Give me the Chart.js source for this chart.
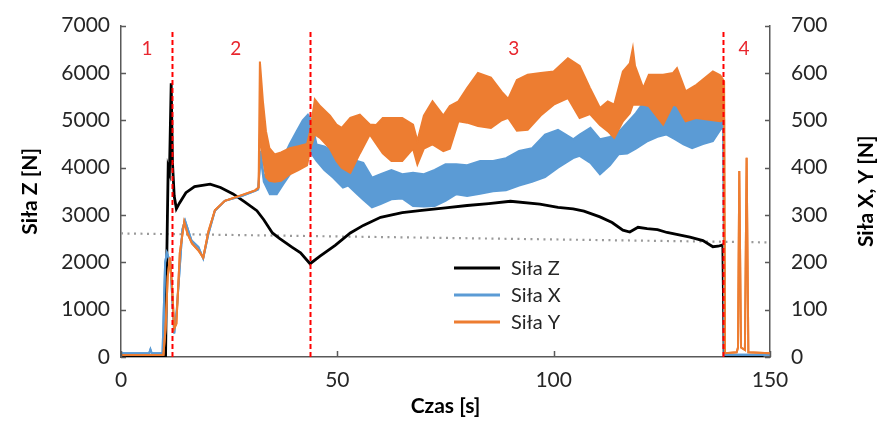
<!DOCTYPE html>
<html>
<head>
<meta charset="utf-8">
<script src="https://cdn.jsdelivr.net/npm/chart.js@4"></script>
<style>
html, body { margin: 0; padding: 0; background: #fff; }
</style>
</head>
<body>
<canvas id="silyChart" width="880" height="423"></canvas>
<script>
// Siła Z (primary axis)
const tZ = [0, 9.8, 10.3, 10.6, 10.9, 11.2, 11.6, 11.9, 12.3, 12.8, 13.5, 15, 17, 20.6, 23, 25.9, 28.5, 31.4, 33, 35,
    36.7, 39.5, 41.5, 43.7, 46, 49.5, 53, 56, 60, 65, 69, 75, 80, 85, 90, 96.8, 101, 104.5, 107, 110.7,
    113.5, 116, 117.6, 119.5, 121.6, 124, 126.2, 131.5, 134.5, 136.8, 138, 139.1, 139.4, 148.5];
const silaZ = [0, 0, 0, 2200, 4000, 3900, 5780, 4100, 3400, 3130, 3250, 3470, 3600, 3650, 3580, 3445, 3280, 3090, 2900, 2620,
    2500, 2320, 2200, 1970, 2130, 2360, 2620, 2780, 2950, 3050, 3090, 3150, 3200, 3240, 3290, 3230, 3160, 3130, 3080, 2960,
    2840, 2680, 2640, 2740, 2710, 2690, 2630, 2530, 2460, 2330, 2340, 2370, 0, 0];

// Siła X (secondary axis) - upper / lower edge of the vibrating band
const tX = [0, 6.5, 6.8, 7.1, 9.6, 10.2, 10.6, 11.4, 12.3, 12.9, 14.2, 14.8, 16.3, 17.9, 19, 20.2, 21.7, 24, 27.9, 31,
    31.7, 32.3, 33, 34.4, 36, 37.5, 39, 40.6, 42, 43.2, 44, 45.2, 47, 49, 51.3, 52.5, 54.5, 56, 58, 60,
    62.5, 65, 67.5, 70, 72.5, 75, 77.5, 80, 83, 86, 89, 92, 95, 98, 101, 104.5, 106, 108.5, 110.7, 113,
    115, 117, 119, 121.5, 124, 126, 128, 130, 132, 134.5, 136.8, 138.8, 139.2, 139.5, 150];
const silaXmax = [8, 8, 16, 8, 8, 200, 220, 200, 50, 100, 270, 288, 246, 232, 208, 260, 309, 330, 340, 351,
    354, 435, 380, 400, 405, 421, 450, 477, 500, 512, 500, 449, 445, 435, 410, 393, 414, 410, 379, 386,
    395, 386, 389, 386, 395, 407, 407, 405, 414, 414, 420, 435, 441, 470, 480, 460, 470, 484, 460, 465,
    475, 495, 515, 547, 525, 519, 530, 540, 520, 505, 498, 519, 500, 5, 5];
const silaXmin = [8, 8, 16, 8, 8, 200, 220, 200, 50, 100, 270, 288, 246, 232, 208, 260, 309, 330, 340, 351,
    354, 420, 370, 344, 344, 365, 385, 407, 425, 440, 430, 414, 395, 379, 358, 362, 345, 332, 316, 323,
    333, 335, 319, 318, 319, 330, 344, 340, 345, 350, 352, 362, 370, 380, 400, 420, 425, 410, 386, 405,
    428, 430, 440, 455, 465, 470, 460, 449, 441, 450, 456, 484, 480, 5, 5];

// Siła Y (secondary axis)
const tY = [0, 9.8, 10.3, 10.8, 11.3, 11.8, 12.3, 12.8, 13.6, 14.6, 15.4, 16.4, 17.9, 19, 20.2, 21.7, 24, 27.9, 31, 31.8,
    32.1, 32.8, 33.5, 34.3, 35.5, 37, 39, 41, 43, 43.8, 44.8, 46, 48.3, 49.8, 51, 53, 55.2, 57.5, 59, 60.5,
    62.5, 65, 67.5, 68.5, 70, 72, 74.5, 76, 78, 80, 82.5, 85.5, 88, 89.5, 91.5, 94, 97, 100, 103.3, 106,
    108.4, 110.7, 112.5, 114, 116, 117.6, 118.3, 118.8, 120.7, 122, 125.3, 127.6, 128.5, 130.5, 133, 136.8, 138.5, 139.2, 139.4, 139.6,
    142.3, 142.6, 142.9, 143.3, 144.2, 144.6, 145, 150];
const silaYmax = [4, 4, 60, 170, 210, 150, 60, 70, 220, 285, 260, 240, 225, 210, 265, 310, 330, 342, 352, 358,
    624, 540, 477, 441, 428, 432, 441, 445, 450, 480, 544, 530, 510, 491, 484, 505, 512, 491, 490, 505,
    505, 505, 491, 456, 510, 540, 510, 530, 540, 568, 600, 590, 560, 545, 585, 596, 600, 603, 631, 615,
    568, 526, 540, 533, 603, 620, 652, 615, 568, 596, 596, 600, 610, 561, 575, 603, 595, 585, 582, 8,
    10, 20, 393, 20, 15, 421, 10, 8];
const silaYmin = [4, 4, 60, 170, 210, 150, 60, 70, 220, 285, 260, 240, 225, 210, 265, 310, 330, 342, 352, 358,
    470, 420, 380, 372, 370, 372, 386, 395, 405, 441, 470, 463, 440, 414, 400, 389, 430, 470, 450, 430,
    414, 414, 440, 407, 440, 449, 435, 440, 498, 495, 488, 484, 500, 505, 478, 480, 510, 533, 547, 505,
    513, 490, 477, 463, 498, 515, 533, 533, 533, 530, 491, 533, 530, 498, 505, 500, 498, 500, 500, 8,
    10, 20, 393, 20, 15, 421, 10, 8];

// dotted trend of Siła Z
const tTrend = [0, 150];
const zTrend = [2610, 2420];

// phase boundaries and labels
const phaseT = [11.9, 43.8, 139.25];
const phaseTop = 6880;
const phaseLabels = ['1', '2', '3', '4'];
const phaseLabelT = [6, 26.5, 90.8, 144];
const phaseLabelZ = 6500;

const pts = (xs, ys) => xs.map((x, i) => ({ x, y: ys[i] }));

const BLACK = '#000000';
const BLUE = '#5b9bd5';
const ORANGE = '#ed7d31';
const RED = '#ff0000';
const FONT = 'Lato';
const TEXT = '#262626';

const line = (extra) => Object.assign({
    pointRadius: 0,
    tension: 0,
    borderWidth: 2,
    fill: false
}, extra);

const datasets = [
    line({ label: 'Siła Z', data: pts(tZ, silaZ), yAxisID: 'yZ', borderColor: BLACK, borderWidth: 2.8, order: 3 }),
    line({ label: 'Siła X', data: pts(tX, silaXmax), yAxisID: 'yXY', borderColor: BLUE, backgroundColor: BLUE, fill: '+1', order: 2 }),
    line({ label: '', data: pts(tX, silaXmin), yAxisID: 'yXY', borderColor: BLUE, order: 2 }),
    line({ label: 'Siła Y', data: pts(tY, silaYmax), yAxisID: 'yXY', borderColor: ORANGE, backgroundColor: ORANGE, fill: '+1', order: 1 }),
    line({ label: '', data: pts(tY, silaYmin), yAxisID: 'yXY', borderColor: ORANGE, order: 1 }),
    line({ label: '', data: pts(tTrend, zTrend), yAxisID: 'yZ', borderColor: '#9a9a9a', borderWidth: 2.2, borderDash: [2, 4.5], order: 4 })
];
phaseT.forEach(t => {
    datasets.push(line({ label: '', data: [{ x: t, y: 0 }, { x: t, y: phaseTop }], yAxisID: 'yZ',
        borderColor: RED, borderDash: [5, 3], order: 0 }));
});

const legendItems = [
    { text: 'Siła Z', color: BLACK },
    { text: 'Siła X', color: BLUE },
    { text: 'Siła Y', color: ORANGE }
];

const extras = {
    id: 'extras',
    afterDatasetsDraw(chart) {
        const { ctx, chartArea: a, scales } = chart;
        ctx.save();

        // tick marks point into the plot
        ctx.strokeStyle = '#595959';
        ctx.lineWidth = 1.5;
        ctx.beginPath();
        scales.yZ.ticks.forEach(t => {
            const y = Math.round(scales.yZ.getPixelForValue(t.value)) + 0.5;
            ctx.moveTo(a.left, y); ctx.lineTo(a.left + 5, y);
        });
        scales.yXY.ticks.forEach(t => {
            const y = Math.round(scales.yXY.getPixelForValue(t.value)) + 0.5;
            ctx.moveTo(a.right, y); ctx.lineTo(a.right - 5, y);
        });
        scales.x.ticks.forEach(t => {
            const x = Math.round(scales.x.getPixelForValue(t.value)) + 0.5;
            ctx.moveTo(x, a.bottom); ctx.lineTo(x, a.bottom - 6);
        });
        ctx.stroke();

        // phase numbers
        ctx.fillStyle = '#e8262e';
        ctx.font = `19px ${FONT}`;
        ctx.textAlign = 'center';
        ctx.textBaseline = 'middle';
        phaseLabels.forEach((s, i) => {
            ctx.fillText(s, scales.x.getPixelForValue(phaseLabelT[i]), scales.yZ.getPixelForValue(phaseLabelZ));
        });

        // legend
        ctx.textAlign = 'left';
        ctx.fillStyle = TEXT;
        ctx.font = `20px ${FONT}`;
        ctx.lineWidth = 3;
        legendItems.forEach((it, i) => {
            const y = 268 + i * 27;
            ctx.strokeStyle = it.color;
            ctx.beginPath();
            ctx.moveTo(454, y); ctx.lineTo(500, y);
            ctx.stroke();
            ctx.fillText(it.text, 511, y + 1);
        });

        // right axis title, reading upwards like the left one
        ctx.font = `bold 21px ${FONT}`;
        ctx.fillStyle = '#000';
        ctx.textAlign = 'center';
        ctx.translate(866, (a.top + a.bottom) / 2);
        ctx.rotate(-Math.PI / 2);
        ctx.fillText('Siła X, Y [N]', 0, 0);
        ctx.restore();
    }
};

const tickFont = { family: FONT, size: 21 };
const titleFont = { family: FONT, size: 21, weight: 'bold' };
const plain = v => String(v);

new Chart(document.getElementById('silyChart'), {
    type: 'line',
    data: { datasets },
    plugins: [extras],
    options: {
        responsive: false,
        animation: false,
        layout: { padding: { top: 24, left: 0, right: 0, bottom: 0 } },
        plugins: {
            legend: { display: false },
            tooltip: { enabled: false }
        },
        scales: {
            x: {
                type: 'linear',
                min: 0,
                max: 150,
                ticks: { stepSize: 50, color: TEXT, font: tickFont, padding: 3, maxRotation: 0, callback: plain },
                grid: { display: false },
                border: { color: '#595959', width: 1.5 },
                title: { display: true, text: 'Czas [s]', color: '#000', font: titleFont, padding: { top: 0, bottom: 4 } },
                afterFit: s => { s.height = 66; }
            },
            yZ: {
                position: 'left',
                min: 0,
                max: 7000,
                ticks: { stepSize: 1000, color: TEXT, font: tickFont, padding: 3, callback: plain },
                grid: { display: false },
                border: { color: '#595959', width: 1.5 },
                title: { display: true, text: 'Siła Z [N]', color: '#000', font: titleFont, padding: { top: 18, bottom: 0 } },
                afterFit: s => { s.width = 121; }
            },
            yXY: {
                position: 'right',
                min: 0,
                max: 700,
                ticks: { stepSize: 100, color: TEXT, font: tickFont, padding: 13, callback: plain },
                grid: { display: false },
                border: { color: '#595959', width: 1.5 },
                afterFit: s => { s.width = 110; }
            }
        }
    }
});
</script>
</body>
</html>
